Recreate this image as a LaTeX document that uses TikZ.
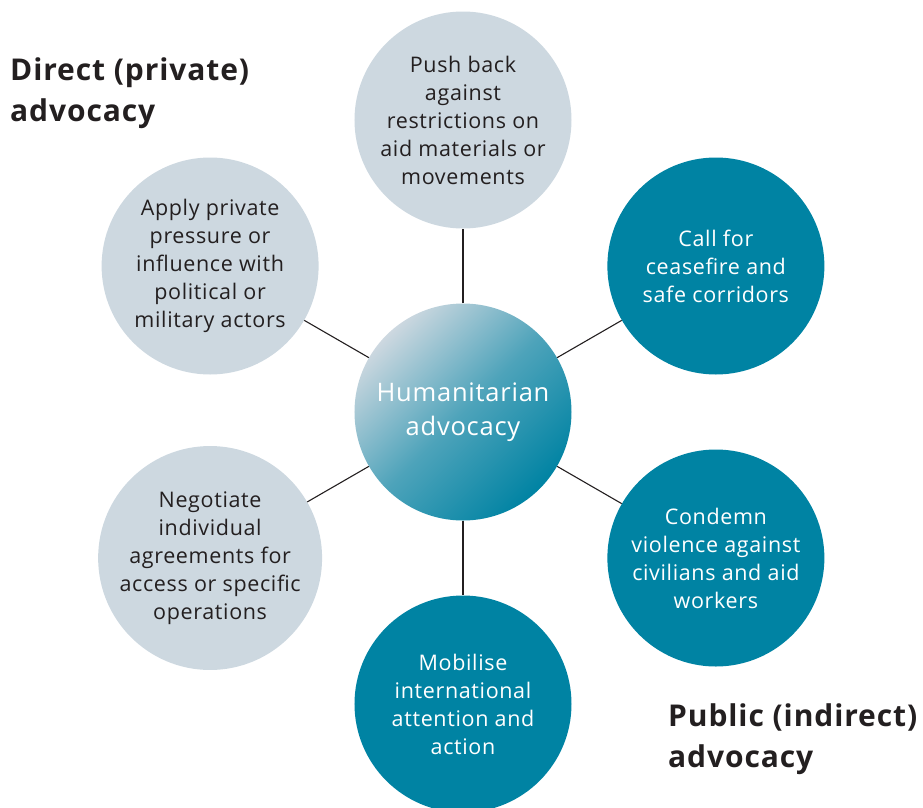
\documentclass[tikz,border=0pt]{standalone}
\usepackage{fontspec}
\setmainfont{Open Sans}[LetterSpace=3]
\usepackage{tikz}
\usetikzlibrary{positioning,shadings}
\definecolor{advteal}{HTML}{0083A3}
\definecolor{advgrey}{HTML}{CDD8E0}
\definecolor{advink}{HTML}{231F20}
\tikzset{priv/.style={circle,fill=advgrey,minimum size=217pt,inner
sep=0pt,align=center,text=advink,font=\fontsize{21.5}{28}\selectfont},pub/.style={circle,fill=advteal,minimum
size=217pt,inner sep=0pt,align=center,text=white,font=\fontsize{21.5}{28}\selectfont}}
\tikzstyle{hub}   = [circle, minimum size=217pt, inner sep=0pt, align=center,
                     text=white, top color=advgrey, bottom color=advteal,
                     middle color=advteal!62!advgrey,
                     shading angle=45, font=\fontsize{25.5}{34}\selectfont]
\tikzstyle{spoke} = [draw, line width=1.1pt, advink]
\tikzstyle{side}  = [anchor=north west, inner sep=0pt, align=left, text=advink,
                     font=\bfseries\fontsize{30}{41}\selectfont]

\begin{document}
\begin{tikzpicture}[x=1pt, y=1pt]
        \useasboundingbox (-463,-395) rectangle (460,412);
        \node[hub] (hub) at (0,0) {Humanitarian\\advocacy};
        \node[priv] (push) at (90:292pt) {Push back\\against\\restrictions on\\aid materials or\\movements};
        \node[pub] (ceasefire) at (30:292pt) {Call for\\ceasefire and\\safe corridors};
        \node[pub] (condemn) at (-30:292pt) {Condemn\\violence against\\civilians and aid\\workers};
        \node[pub] (mobilise) at (-90:292pt) {Mobilise\\international\\attention and\\action};
        \node[priv] (negotiate) at (210:292pt) {Negotiate\\individual\\agreements for\\access or specific\\operations};
        \node[priv] (apply) at (150:292pt) {Apply private\\pressure or\\influence with\\political or\\military actors};

        \node[side] (direct) at (-453,354) {Direct (private)\\advocacy};
        \node[side] (public) at (205,-291) {Public (indirect)\\advocacy};

        \path[spoke] (hub) -- (push);
        \path[spoke] (hub) -- (ceasefire);
        \path[spoke] (hub) -- (condemn);
        \path[spoke] (hub) -- (mobilise);
        \path[spoke] (hub) -- (negotiate);
        \path[spoke] (hub) -- (apply);
    \end{tikzpicture}
\end{document}
